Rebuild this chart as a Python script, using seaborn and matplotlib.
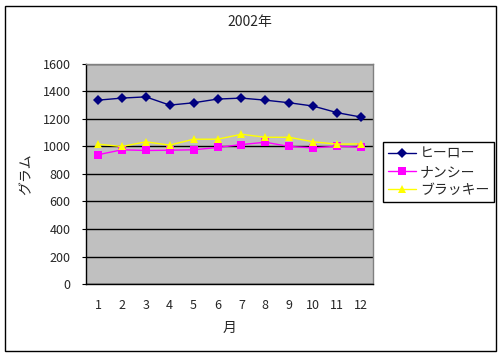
import matplotlib
matplotlib.use("Agg")
import matplotlib.pyplot as plt
import seaborn as sns
import pandas as pd
from matplotlib.patches import Rectangle

months = list(range(1, 13))
hero = [1337, 1352, 1361, 1301, 1318, 1345, 1352, 1337, 1318, 1294, 1246, 1214]
nancy = [940, 976, 971, 973, 976, 993, 1014, 1031, 1000, 990, 1002, 995]
blackie = [1017, 1000, 1034, 1010, 1053, 1053, 1089, 1067, 1067, 1034, 1017, 1019]
series_names = ["ヒーロー", "ナンシー", "ブラッキー"]
y_ticks = [0, 200, 400, 600, 800, 1000, 1200, 1400, 1600]

df = pd.DataFrame({
    "月": months * 3,
    "グラム": hero + nancy + blackie,
    "name": [series_names[0]] * 12 + [series_names[1]] * 12 + [series_names[2]] * 12,
})

sns.set_style("white")
plt.rcParams["font.family"] = ["Noto Sans CJK JP", "DejaVu Sans"]

fig = plt.figure(figsize=(5.03, 3.57), dpi=100)
ax = fig.add_axes([86 / 503, 1 - 284 / 357, 287 / 503, 220 / 357])
ax.set_facecolor("#C0C0C0")

palette = {series_names[0]: "#000080", series_names[1]: "#FF00FF", series_names[2]: "#FFFF00"}
markers = {series_names[0]: "D", series_names[1]: "s", series_names[2]: "^"}
sns.lineplot(data=df, x="月", y="グラム", hue="name", style="name",
             palette=palette, markers=markers, dashes=False,
             markersize=5.5, markeredgewidth=0, linewidth=1.0, ax=ax, zorder=3)

ax.set_xlim(0.5, 12.5)
ax.set_ylim(0, 1600)
ax.set_yticks(y_ticks)
ax.set_xticks(months)
ax.set_xticks([m + 0.5 for m in range(0, 13)], minor=True)
ax.tick_params(axis="x", which="major", length=0, pad=11, labelsize=9)
ax.tick_params(axis="x", which="minor", length=3, direction="in", width=0.8, color="black")
ax.tick_params(axis="y", which="major", length=3, direction="out", width=0.8, color="black", pad=8, labelsize=9, left=True)
ax.grid(axis="y", color="black", linewidth=1.0)
ax.set_axisbelow(True)

for side in ["top", "right"]:
    ax.spines[side].set_color("#808080")
    ax.spines[side].set_linewidth(1.0)
for side in ["left", "bottom"]:
    ax.spines[side].set_color("black")
    ax.spines[side].set_linewidth(1.0)

ax.set_xlabel("月", fontsize=10, labelpad=6)
ax.set_ylabel("グラム", fontsize=10, labelpad=7)
fig.text(250 / 503, 1 - 22 / 357, "2002年", ha="center", va="center", fontsize=10)

leg = ax.legend(loc="upper left", bbox_to_anchor=(383 / 503, 1 - 142 / 357),
                bbox_transform=fig.transFigure, frameon=True, fancybox=False,
                edgecolor="black", framealpha=1, fontsize=10, handlelength=2.0,
                borderpad=0.35, labelspacing=0.3, handletextpad=0.3, borderaxespad=0)
leg.get_frame().set_linewidth(1.0)

fig.patches.append(Rectangle((5 / 503, 1 - 351 / 357), 491 / 503, 345 / 357,
                             transform=fig.transFigure, fill=False,
                             edgecolor="black", linewidth=1.0))

fig.savefig("out.png", dpi=100)
